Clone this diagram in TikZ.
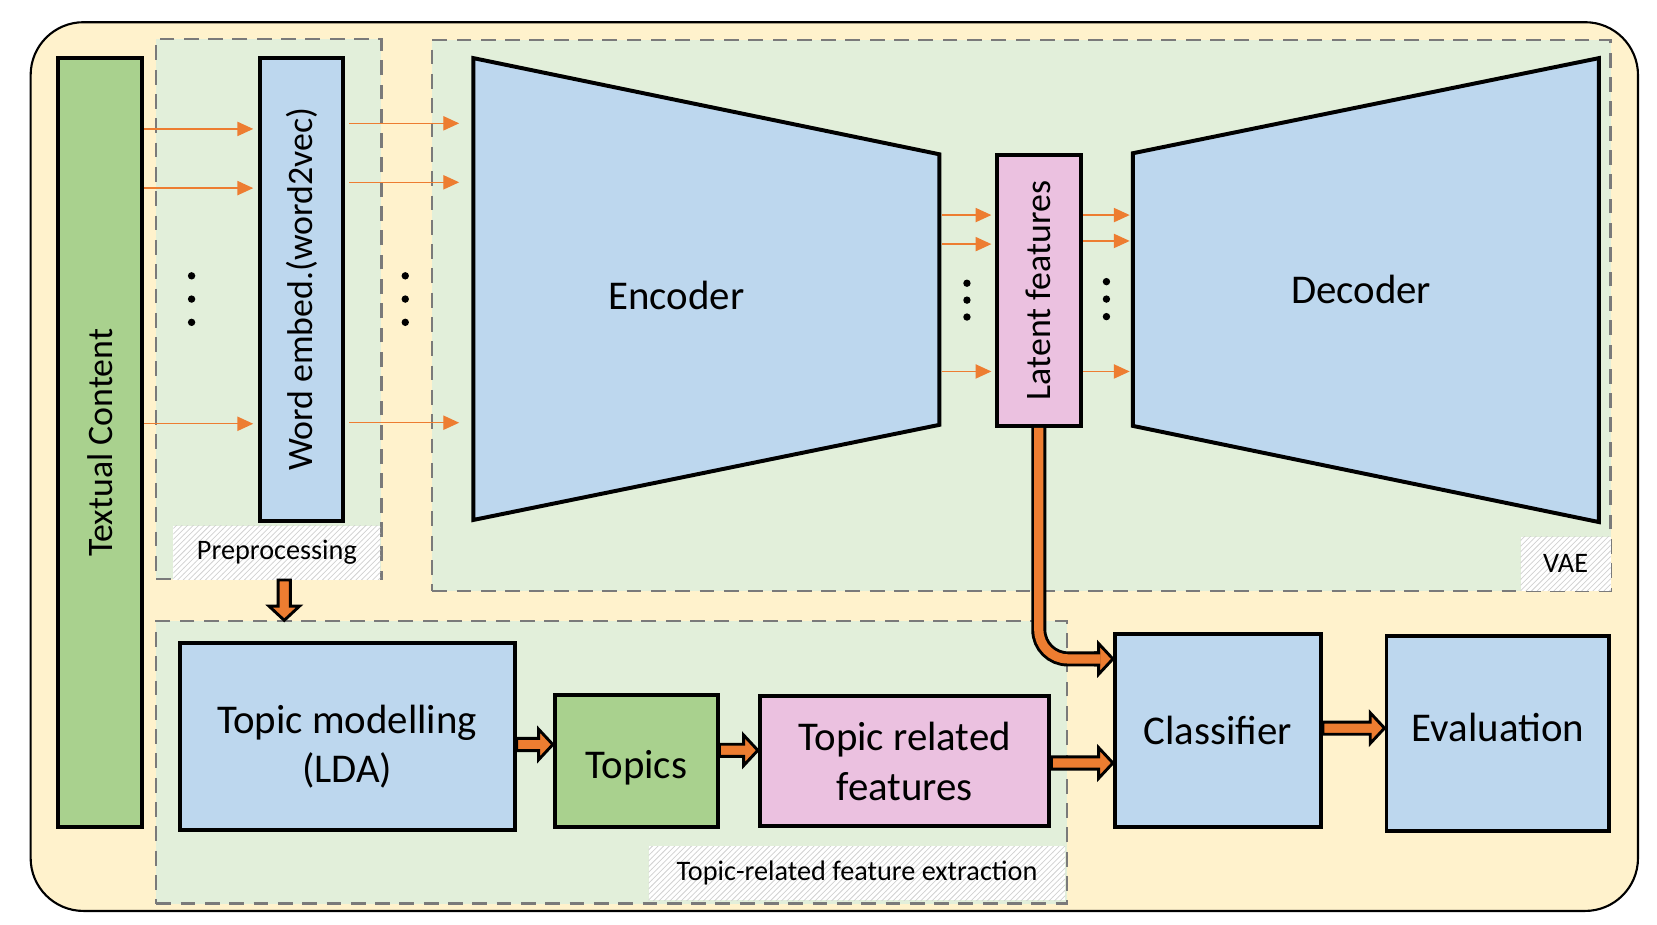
\documentclass[tikz,border=0pt]{standalone}
\usepackage{fontspec}
\usepackage{graphicx}
\setmainfont{Carlito}
\usetikzlibrary{arrows.meta,calc,patterns}

\definecolor{bgyellow}{HTML}{FFF2CC}
\definecolor{panelgreen}{HTML}{E2EFDA}
\definecolor{boxgreen}{HTML}{A9D18E}
\definecolor{boxblue}{HTML}{BDD7EE}
\definecolor{boxpink}{HTML}{EBC1E0}
\definecolor{arroworange}{HTML}{ED7D31}
\definecolor{dashgray}{HTML}{7A7A7A}

\tikzset{
  block/.style={draw=black, line width=0.75mm, inner sep=0pt},
  bigtext/.style={font=\fontsize{22}{26.7}\selectfont, align=center},
  midtext/.style={font=\fontsize{19.3}{23}\selectfont},
  panel/.style={draw=dashgray, fill=panelgreen, line width=0.4mm, dash pattern=on 2.8mm off 1.8mm, inner sep=0pt},
  tag/.style={fill=white, postaction={pattern=north east lines, pattern color=black!18}, inner sep=0pt, font=\fontsize{15.2}{18}\selectfont},
  feed/.style={draw=arroworange, line width=0.25mm, -{Triangle[length=3mm, width=2.7mm]}},
  fat/.style={draw=black, fill=arroworange, line width=0.55mm, line join=miter,
    to path={let \p1=(\tikztostart), \p2=(\tikztotarget) in
      (\x1,\y1+1.15mm) -- (\x2-2.7mm,\y1+1.15mm) -- (\x2-2.7mm,\y1+2.9mm) -- (\x2,\y1)
      -- (\x2-2.7mm,\y1-2.9mm) -- (\x2-2.7mm,\y1-1.15mm) -- (\x1,\y1-1.15mm) -- cycle}},
  fatv/.style={draw=black, fill=arroworange, line width=0.55mm, line join=miter,
    to path={let \p1=(\tikztostart), \p2=(\tikztotarget) in
      (\x1+1.15mm,\y1) -- (\x1+1.15mm,\y2+2.7mm) -- (\x1+2.9mm,\y2+2.7mm) -- (\x1,\y2)
      -- (\x1-2.9mm,\y2+2.7mm) -- (\x1-1.15mm,\y2+2.7mm) -- (\x1-1.15mm,\y1) -- cycle}},
  fatline/.style={draw=black, line width=0.55mm, double=arroworange, double distance=1.75mm}
}

\begin{document}
\begin{tikzpicture}[x=0.2mm, y=-0.2mm]

\useasboundingbox (0,0) rectangle (1568,875);

%% The background
\draw[fill=bgyellow, line width=0.4mm, rounded corners=10mm] (29,21) rectangle (1550,862);

%% The dashed groups
\node[panel, minimum width=42.6mm, minimum height=102.2mm] (pre) at (254.5,292.5) {};
\node[panel, minimum width=223mm, minimum height=104.2mm] (vae) at (966.5,298.5) {};
\node[panel, minimum width=172.4mm, minimum height=53.4mm] (tfe) at (579,721.5) {};

%% The group labels
\node[tag, minimum width=39.2mm, minimum height=10.2mm] (pre-tag) at (262,523) {Preprocessing};
\node[tag, minimum width=17mm, minimum height=10.2mm] (vae-tag) at (1481.5,533.5) {VAE};
\node[tag, minimum width=78.9mm, minimum height=10.2mm] (tfe-tag) at (811,826.5) {Topic-related feature extraction};

%% The input and the embedding
\node[block, fill=boxgreen, minimum width=16mm, minimum height=145.6mm, midtext] (text) at (94.5,419) {\rotatebox{90}{Textual Content}};
\node[block, fill=boxblue, minimum width=15.8mm, minimum height=87.6mm, midtext] (embed) at (285.5,273.7) {\rotatebox{90}{Word embed.(word2vec)}};

%% The encoder
\coordinate (enc-a) at (448,55);
\coordinate (enc-b) at (889,146);
\coordinate (enc-c) at (889,402);
\coordinate (enc-d) at (448,492);
\draw[block, fill=boxblue] (enc-a) -- (enc-b) -- (enc-c) -- (enc-d) -- cycle;
\node[bigtext] (enc) at (640,280) {Encoder};

%% The latent layer
\node[block, fill=boxpink, minimum width=16mm, minimum height=51.2mm, midtext] (latent) at (983,275) {\rotatebox{90}{Latent features}};

%% The decoder
\coordinate (dec-a) at (1072,145);
\coordinate (dec-b) at (1513,55);
\coordinate (dec-c) at (1513,494);
\coordinate (dec-d) at (1072,403);
\draw[block, fill=boxblue] (dec-a) -- (dec-b) -- (dec-c) -- (dec-d) -- cycle;
\node[bigtext] (dec) at (1288,274) {Decoder};

%% The lower row
\node[block, fill=boxblue, minimum width=63.4mm, minimum height=35.4mm] (lda) at (328.5,696.5) {};
\node[bigtext] (lda-text) at ([yshift=-2mm]lda.center) {Topic modelling\\(LDA)};
\node[block, fill=boxgreen, minimum width=30.8mm, minimum height=25mm] (topics) at (602,720.5) {};
\node[bigtext] (topics-text) at ([yshift=-1.2mm]topics.center) {Topics};
\node[block, fill=boxpink, minimum width=54.8mm, minimum height=24.6mm, bigtext] (trf) at (856,720.5) {Topic related\\features};
\node[block, fill=boxblue, minimum width=39mm, minimum height=36.6mm, bigtext] (cls) at (1152.5,691.5) {Classifier};
\node[block, fill=boxblue, minimum width=42.2mm, minimum height=36.8mm] (eval) at (1417.5,694) {};
\node[bigtext] (eval-text) at ([yshift=1.2mm]eval.center) {Evaluation};

%% The thin arrows
\foreach \y in {122,178,401}
  \draw[feed, shorten >=0.9mm] (text.east |- 0,\y) -- (embed.west |- 0,\y);
\foreach \y in {116.7,172.5,400}
  \draw[feed, shorten <=0.7mm, shorten >=2.7mm] (embed.east |- 0,\y) -- (enc-a |- 0,\y);
\foreach \y in {203.5,231,351.5}
  \draw[feed, shorten <=0.4mm, shorten >=0.6mm] (enc-b |- 0,\y) -- (latent.west |- 0,\y);
\foreach \y in {203.5,228,351.5}
  \draw[feed, shorten >=0.6mm] (latent.east |- 0,\y) -- (dec-a |- 0,\y);

%% The dots
\foreach \x in {181.3,383.5}
  \foreach \y in {261,283,305}
    \fill (\x,\y) circle[radius=0.7mm];
\foreach \y in {268,284,300}
  \fill (915,\y) circle[radius=0.7mm];
\foreach \y in {266.5,283,299.6}
  \fill (1047,\y) circle[radius=0.7mm];

%% The block arrows
\draw[fatv] ([xshift=1.4mm]pre-tag.south) to (pre-tag.south |- tfe.north);
\draw[fat] ([yshift=-1.6mm]lda.east) to (topics.west);
\draw[fat] ([yshift=2.1mm]topics.east) to (trf.west);
\draw[fat] ([yshift=-0.3mm]trf.east) to (cls.west);
\draw[fat] ([yshift=0.5mm]cls.east) to (eval.west);

%% The latent features to the classifier
\coordinate (cls-in) at ([yshift=13.6mm]cls.west);
\draw[fat] ([xshift=-3.3mm]cls-in) to (cls-in);
\draw[fatline, rounded corners=5.5mm] (latent.south) |- ([xshift=-2.4mm]cls-in);

\end{tikzpicture}
\end{document}
